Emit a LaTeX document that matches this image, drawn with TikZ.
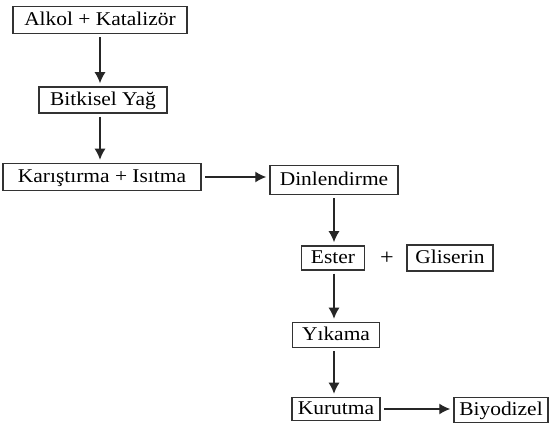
\documentclass[tikz,border=0pt]{standalone}
\usepackage{fontspec}
\setmainfont[FakeStretch=1.1]{Liberation Serif}
\usetikzlibrary{arrows.meta}
\tikzset{
	stepbox/.style={draw=black!80, line width=1.5pt, inner sep=0pt, align=center, text height=14pt, text depth=2.5pt, font=\fontsize{19.5}{21}\selectfont},
	flow/.style={draw=black!85, line width=1.3pt, -{Latex[length=11pt,width=11pt]}, shorten <=3pt, shorten >=3pt}
}
\begin{document}
\begin{tikzpicture}[x=1pt, y=-1pt]
		%%%%% START %%%%%
		\useasboundingbox (0, 0) rectangle (555, 430);
		
		\node[stepbox, minimum width=174pt, minimum height=27pt] (alkol) at (100, 20) {Alkol + Katalizör};
		\node[stepbox, minimum width=128pt, minimum height=26pt] (bitkisel) at (103, 100) {Bitkisel Yağ};
		\node[stepbox, minimum width=198pt, minimum height=27pt] (karistirma) at (102, 177) {Karıştırma + Isıtma};
		\node[stepbox, minimum width=128pt, minimum height=29pt] (dinlendirme) at (334, 180) {Dinlendirme};
		
		\node[stepbox, minimum width=63pt, minimum height=24pt] (ester) at (333, 258) {Ester};
		\node[font=\fontsize{22}{24}\selectfont] (arti) at (387, 258) {+};
		\node[stepbox, minimum width=86pt, minimum height=26pt] (gliserin) at (450, 258) {Gliserin};
		
		\node[stepbox, minimum width=87pt, minimum height=25pt] (yikama) at (336, 335) {Yıkama};
		\node[stepbox, minimum width=88pt, minimum height=23pt] (kurutma) at (336, 409) {Kurutma};
		\node[stepbox, minimum width=94pt, minimum height=25pt] (biyodizel) at (501, 410) {Biyodizel};
		
		\draw[flow] (alkol) -- (alkol |- bitkisel.north);
		\draw[flow] (alkol |- bitkisel.south) -- (alkol |- karistirma.north);
		\draw[flow] (karistirma.east) -- (dinlendirme.west |- karistirma.east);
		\draw[flow] (dinlendirme) -- (dinlendirme |- ester.north);
		\draw[flow] (dinlendirme |- ester.south) -- (dinlendirme |- yikama.north);
		\draw[flow] (dinlendirme |- yikama.south) -- (dinlendirme |- kurutma.north);
		\draw[flow] (kurutma.east) -- (biyodizel.west |- kurutma.east);
		
		%%%%% END %%%%%
\end{tikzpicture}
\end{document}
